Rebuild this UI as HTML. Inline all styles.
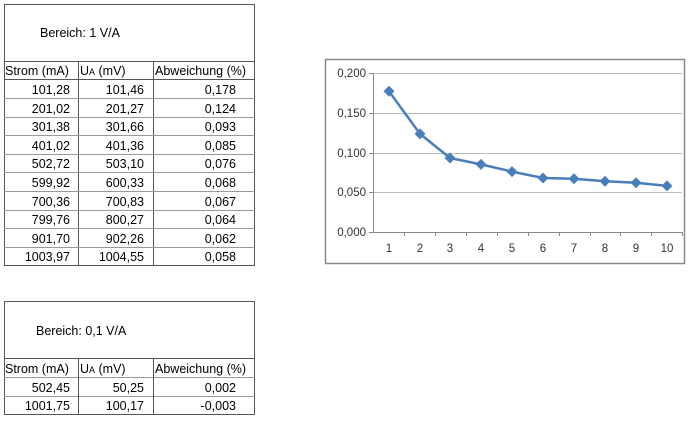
<!DOCTYPE html>
<html><head><meta charset="utf-8"><style>
body{margin:0;background:#fff;}
svg{display:block;font-family:"Liberation Sans",sans-serif;}
</style></head><body>
<svg width="700" height="421" viewBox="0 0 700 421" xmlns="http://www.w3.org/2000/svg">
<g stroke="#555" stroke-width="1" fill="none" shape-rendering="crispEdges">
<rect x="4.5" y="4.5" width="250" height="261"/>
<line x1="4" y1="61.5" x2="255" y2="61.5"/>
<line x1="4" y1="79.5" x2="255" y2="79.5"/>
<line x1="78.5" y1="61" x2="78.5" y2="266"/>
<line x1="153.5" y1="61" x2="153.5" y2="266"/>
<g stroke="#999">
<line x1="4" y1="98.5" x2="255" y2="98.5"/><line x1="4" y1="117.5" x2="255" y2="117.5"/>
<line x1="4" y1="135.5" x2="255" y2="135.5"/><line x1="4" y1="154.5" x2="255" y2="154.5"/>
<line x1="4" y1="172.5" x2="255" y2="172.5"/><line x1="4" y1="191.5" x2="255" y2="191.5"/>
<line x1="4" y1="210.5" x2="255" y2="210.5"/><line x1="4" y1="228.5" x2="255" y2="228.5"/>
<line x1="4" y1="247.5" x2="255" y2="247.5"/>
</g>
<rect x="4.5" y="301.5" width="250" height="113"/>
<line x1="4" y1="358.5" x2="255" y2="358.5"/>
<line x1="4" y1="377.5" x2="255" y2="377.5" stroke="#999"/>
<line x1="4" y1="396.5" x2="255" y2="396.5" stroke="#999"/>
<line x1="78.5" y1="358" x2="78.5" y2="415"/>
<line x1="153.5" y1="358" x2="153.5" y2="415"/>
</g>
<g font-size="12.5" fill="#000">
<text x="40" y="37">Bereich: 1 V/A</text>
<text x="5" y="75">Strom (mA)</text><text x="80" y="75">U<tspan font-size="9">A</tspan> (mV)</text><text x="155" y="75">Abweichung (%)</text>
<g text-anchor="end">
<text x="70" y="94">101,28</text><text x="144" y="94">101,46</text><text x="236" y="94">0,178</text>
<text x="70" y="113">201,02</text><text x="144" y="113">201,27</text><text x="236" y="113">0,124</text>
<text x="70" y="131">301,38</text><text x="144" y="131">301,66</text><text x="236" y="131">0,093</text>
<text x="70" y="150">401,02</text><text x="144" y="150">401,36</text><text x="236" y="150">0,085</text>
<text x="70" y="168">502,72</text><text x="144" y="168">503,10</text><text x="236" y="168">0,076</text>
<text x="70" y="187">599,92</text><text x="144" y="187">600,33</text><text x="236" y="187">0,068</text>
<text x="70" y="206">700,36</text><text x="144" y="206">700,83</text><text x="236" y="206">0,067</text>
<text x="70" y="224">799,76</text><text x="144" y="224">800,27</text><text x="236" y="224">0,064</text>
<text x="70" y="243">901,70</text><text x="144" y="243">902,26</text><text x="236" y="243">0,062</text>
<text x="70" y="261">1003,97</text><text x="144" y="261">1004,55</text><text x="236" y="261">0,058</text>
</g>
<text x="36" y="335">Bereich: 0,1 V/A</text>
<text x="5" y="373">Strom (mA)</text><text x="80" y="373">U<tspan font-size="9">A</tspan> (mV)</text><text x="155" y="373">Abweichung (%)</text>
<g text-anchor="end">
<text x="70" y="392">502,45</text><text x="144" y="392">50,25</text><text x="236" y="392">0,002</text>
<text x="70" y="410">1001,75</text><text x="144" y="410">100,17</text><text x="236" y="410">-0,003</text>
</g>
</g>
<rect x="325.5" y="59.5" width="359" height="204" fill="#fff" stroke="#888" stroke-width="1.5"/>
<g stroke="#bbb" stroke-width="1" shape-rendering="crispEdges">
<line x1="373" y1="73.5" x2="682" y2="73.5"/>
<line x1="373" y1="113.5" x2="682" y2="113.5"/>
<line x1="373" y1="153.5" x2="682" y2="153.5"/>
<line x1="373" y1="192.5" x2="682" y2="192.5"/>
</g>
<g stroke="#888" stroke-width="1" shape-rendering="crispEdges">
<line x1="373.5" y1="73" x2="373.5" y2="232"/>
<line x1="369" y1="232.5" x2="682" y2="232.5"/>
<line x1="369" y1="73.5" x2="373" y2="73.5"/><line x1="369" y1="113.5" x2="373" y2="113.5"/>
<line x1="369" y1="153.5" x2="373" y2="153.5"/><line x1="369" y1="192.5" x2="373" y2="192.5"/>
<line x1="404.5" y1="232" x2="404.5" y2="236"/><line x1="435.5" y1="232" x2="435.5" y2="236"/>
<line x1="466.5" y1="232" x2="466.5" y2="236"/><line x1="497.5" y1="232" x2="497.5" y2="236"/>
<line x1="528.5" y1="232" x2="528.5" y2="236"/><line x1="559.5" y1="232" x2="559.5" y2="236"/>
<line x1="590.5" y1="232" x2="590.5" y2="236"/><line x1="620.5" y1="232" x2="620.5" y2="236"/>
<line x1="651.5" y1="232" x2="651.5" y2="236"/><line x1="682.5" y1="232" x2="682.5" y2="236"/>
</g>
<g font-size="11.5" fill="#333" text-anchor="end">
<text x="366" y="77">0,200</text><text x="366" y="117">0,150</text><text x="366" y="157">0,100</text>
<text x="366" y="196">0,050</text><text x="366" y="236">0,000</text>
</g>
<g font-size="11.5" fill="#333" text-anchor="middle">
<text x="389" y="252">1</text><text x="420" y="252">2</text><text x="450" y="252">3</text><text x="481" y="252">4</text>
<text x="512" y="252">5</text><text x="543" y="252">6</text><text x="574" y="252">7</text><text x="605" y="252">8</text>
<text x="636" y="252">9</text><text x="667" y="252">10</text>
</g>
<polyline fill="none" stroke="#4a7ebb" stroke-width="2.5" stroke-linejoin="round" points="389,91.3 420,133.9 450,158 481,164.4 512,171.6 543,178 574,178.8 605,181.2 636,182.8 667,185.9"/>
<g fill="#4a7ebb">
<path d="M389,85.8l5.5,5.5-5.5,5.5-5.5-5.5z"/><path d="M420,128.4l5.5,5.5-5.5,5.5-5.5-5.5z"/><path d="M450,152.5l5.5,5.5-5.5,5.5-5.5-5.5z"/>
<path d="M481,158.9l5.5,5.5-5.5,5.5-5.5-5.5z"/><path d="M512,166.1l5.5,5.5-5.5,5.5-5.5-5.5z"/><path d="M543,172.5l5.5,5.5-5.5,5.5-5.5-5.5z"/>
<path d="M574,173.3l5.5,5.5-5.5,5.5-5.5-5.5z"/><path d="M605,175.7l5.5,5.5-5.5,5.5-5.5-5.5z"/><path d="M636,177.3l5.5,5.5-5.5,5.5-5.5-5.5z"/>
<path d="M667,180.4l5.5,5.5-5.5,5.5-5.5-5.5z"/>
</g>
</svg>
</body></html>
